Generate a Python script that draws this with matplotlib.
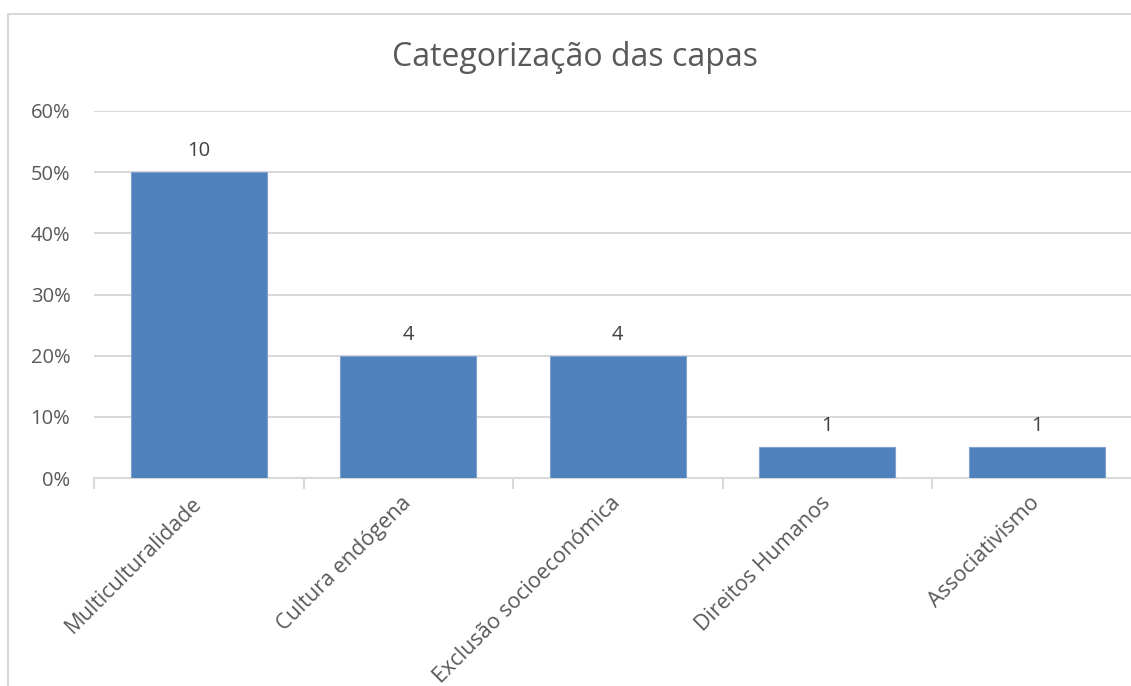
import matplotlib
matplotlib.use("Agg")
import matplotlib.pyplot as plt
from matplotlib.ticker import FuncFormatter, FixedLocator

categories = ["Multiculturalidade", "Cultura endógena", "Exclusão socioeconómica",
              "Direitos Humanos", "Associativismo"]
shares = [0.50, 0.20, 0.20, 0.05, 0.05]
counts = [10, 4, 4, 1, 1]
y_ticks = [0.0, 0.1, 0.2, 0.3, 0.4, 0.5, 0.6]

plt.rcParams["font.family"] = ["Open Sans", "DejaVu Sans"]
TEXT = "#595959"
GRID = "#D9D9D9"
BAR = "#4F81BD"

W, H = 1131, 686
fig = plt.figure(figsize=(W / 100, H / 100), dpi=100)
ax = fig.add_axes([94 / W, 1 - 478 / H, 1047.5 / W, 367 / H])

x = list(range(len(categories)))
bars = ax.bar(x, shares, width=0.65, color=BAR, edgecolor="#7EA1CE", linewidth=0.8, zorder=3)

for b, c in zip(bars, counts):
    ax.annotate(str(c), (b.get_x() + b.get_width() / 2, b.get_height()),
                xytext=(0, 8), textcoords="offset points",
                ha="center", va="bottom", fontsize=14.5, color="#404040")

ax.set_xlim(-0.5, len(categories) - 0.5)
ax.set_ylim(0, 0.6)
ax.set_yticks(y_ticks)
ax.yaxis.set_major_formatter(FuncFormatter(lambda v, _: f"{v * 100:.0f}%"))
ax.tick_params(axis="y", length=0, pad=17, labelsize=14.5, labelcolor=TEXT)
ax.grid(axis="y", color=GRID, linewidth=1.5, zorder=0)

ax.set_xticks(x)
ax.set_xticklabels(categories, rotation=45, ha="right", va="center",
                   rotation_mode="anchor", fontsize=15.5, color=TEXT)
ax.tick_params(axis="x", which="major", length=0, pad=16)
ax.xaxis.set_minor_locator(FixedLocator([i - 0.5 for i in range(len(categories) + 1)]))
ax.tick_params(axis="x", which="minor", length=8, width=1.5, color=GRID)

for s in ["top", "right", "left"]:
    ax.spines[s].set_visible(False)
ax.spines["bottom"].set_color(GRID)
ax.spines["bottom"].set_linewidth(1.5)

fig.text(575 / W, 1 - 58 / H, "Categorização das capas", ha="center", va="center",
         fontsize=23, color=TEXT)

fig.patches.append(plt.Rectangle((8 / W, -0.05), 1.1, (H - 14) / H + 0.05,
                                 transform=fig.transFigure, fill=False,
                                 edgecolor=GRID, linewidth=1.5))

fig.savefig("out.png", dpi=100)
